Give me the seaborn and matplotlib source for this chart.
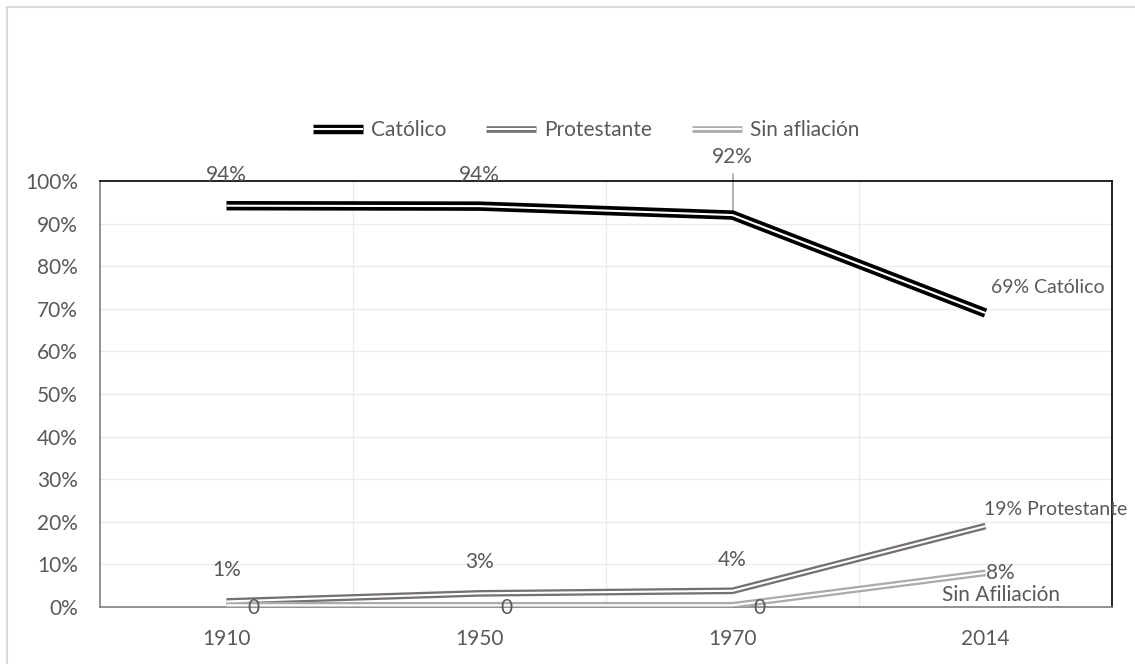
import matplotlib
matplotlib.use("Agg")
import matplotlib.pyplot as plt
from matplotlib.lines import Line2D
import seaborn as sns
import pandas as pd

years = ["1910", "1950", "1970", "2014"]
catolico = [94.2, 94.1, 92.0, 69.0]
protestante = [1.3, 3.2, 3.8, 19.0]
sin_afiliacion = [0.4, 0.4, 0.4, 8.0]
series_names = ["Católico", "Protestante", "Sin afliación"]
label_catolico = ["94%", "94%", "92%", "69% Católico"]
label_protestante = ["1%", "3%", "4%", "19% Protestante"]
label_sin = ["0", "0", "0", "8%\nSin Afiliación"]

colors = ["#000000", "#767171", "#AEAAAA"]
outer_w = [6.8, 4.8, 4.8]
inner_w = 1.5

sns.set_theme(style="white")
plt.rcParams["font.family"] = ["Lato", "DejaVu Sans"]
text_color = "#595959"
FS = 15
PX = 0.72  # points per pixel at dpi 100

fig = plt.figure(figsize=(11.35, 6.64), dpi=100)
ax = fig.add_axes([100 / 1135, 57 / 664, 1012 / 1135, 426 / 664])

pos = list(range(len(years)))
all_series = [catolico, protestante, sin_afiliacion]
for vals, c, ow in zip(all_series, colors, outer_w):
    df = pd.DataFrame({"x": pos, "y": vals})
    sns.lineplot(data=df, x="x", y="y", ax=ax, color=c, lw=ow,
                 solid_capstyle="butt", solid_joinstyle="miter", zorder=3)
    sns.lineplot(data=df, x="x", y="y", ax=ax, color="white", lw=inner_w,
                 solid_capstyle="butt", solid_joinstyle="miter", zorder=3.5)

ax.set_xlim(-0.5, len(years) - 0.5)
ax.set_ylim(0, 100)
ax.set_yticks(range(0, 101, 10))
ax.set_yticklabels([f"{v}%" for v in range(0, 101, 10)], fontsize=FS, color=text_color)
ax.set_xticks(pos)
ax.set_xticklabels(years, fontsize=FS, color=text_color)
ax.tick_params(axis="x", length=0, pad=16)
ax.tick_params(axis="y", length=0, pad=16)
ax.set_xlabel("")
ax.set_ylabel("")
for v in range(10, 100, 10):
    ax.axhline(v, color="#EBEBEB", lw=1, zorder=0)
for v in [0.5, 1.5, 2.5]:
    ax.axvline(v, color="#EBEBEB", lw=1, zorder=0)

ax.spines["left"].set_color("#7F7F7F")
ax.spines["bottom"].set_color("#7F7F7F")
ax.spines["top"].set_color("#000000")
ax.spines["right"].set_color("#000000")
for s in ax.spines.values():
    s.set_linewidth(1.2)

kw = dict(textcoords="offset points", fontsize=FS, color=text_color, ha="center", va="center",
          annotation_clip=False, zorder=6)
# Católico labels
for i, (v, lab) in enumerate(zip(catolico, label_catolico)):
    if i < 2:
        ax.annotate(lab, (i, v), xytext=(0, 31 * PX), **kw)
    elif i == 2:
        ax.annotate(lab, (i, v), xytext=(0, 58 * PX), **kw)
    else:
        ax.annotate(lab, (i, v), xytext=(62 * PX, 26 * PX), fontsize=FS - 1, **{k: w for k, w in kw.items() if k != "fontsize"})
ax.plot([2, 2], [catolico[2] + 0.5, catolico[2] + 9.6], color="#A6A6A6", lw=1.2,
        clip_on=False, zorder=2)
# Protestante labels
for i, (v, lab) in enumerate(zip(protestante, label_protestante)):
    if i < 3:
        ax.annotate(lab, (i, v), xytext=(0, 31 * PX), **kw)
    else:
        ax.annotate(lab, (i, v), xytext=(70 * PX, 17 * PX), fontsize=FS - 1, **{k: w for k, w in kw.items() if k != "fontsize"})
# Sin afiliación labels
for i, (v, lab) in enumerate(zip(sin_afiliacion, label_sin)):
    if i < 3:
        ax.annotate(lab, (i, v), xytext=(27 * PX, -3 * PX), **kw)
    else:
        ax.annotate(lab, (i, v), xytext=(15 * PX, -11 * PX), linespacing=1.15, **kw)

handles = []
for c, ow in zip(colors, outer_w):
    handles.append((Line2D([], [], color=c, lw=ow, solid_capstyle="butt"),
                    Line2D([], [], color="white", lw=inner_w, solid_capstyle="butt")))
leg = fig.legend(handles, series_names, loc="center", bbox_to_anchor=(586 / 1135, 1 - 130 / 664),
                 ncol=3, frameon=False, fontsize=FS, handlelength=2.4, columnspacing=1.9,
                 handletextpad=0.4)
for t in leg.get_texts():
    t.set_color(text_color)

# outer chart-area border (top and left edges visible)
fig.add_artist(Line2D([7 / 1135, 1.0], [1 - 7 / 664, 1 - 7 / 664], transform=fig.transFigure,
                      color="#D9D9D9", lw=1.5))
fig.add_artist(Line2D([7 / 1135, 7 / 1135], [0.0, 1 - 7 / 664], transform=fig.transFigure,
                      color="#D9D9D9", lw=1.5))

fig.savefig("out.png", dpi=100, facecolor="white")
